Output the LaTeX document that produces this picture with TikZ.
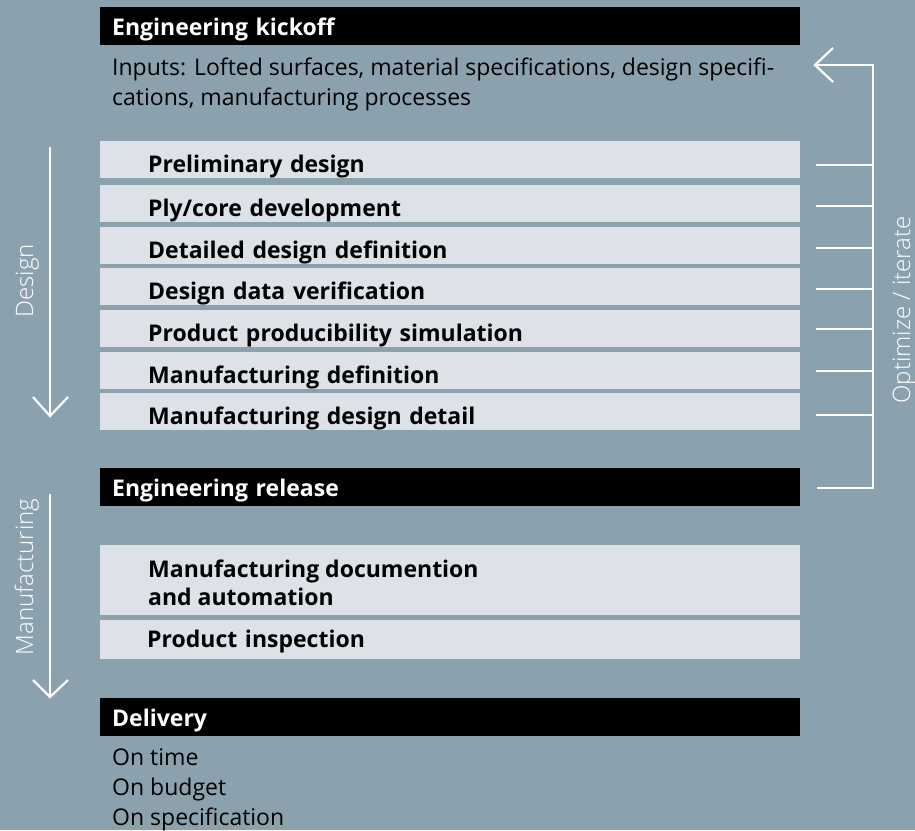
\documentclass[tikz,border=0pt]{standalone}
\usepackage{fontspec}
\setmainfont{Open Sans}
\newfontfamily\lightfont{Open Sans Light}
\usetikzlibrary{calc}
\definecolor{bgc}{HTML}{8BA2AE}
\definecolor{boxc}{HTML}{DCE2E8}
\begin{document}
\begin{tikzpicture}[x=1pt,y=1pt,
  wline/.style={draw=white,line width=2.2pt,line join=miter},
  blackbox/.style={fill=black,text=white,anchor=north west,minimum width=700pt,minimum height=38pt,
    inner xsep=12pt,inner ysep=0pt,text width=676pt,align=left,text height=18pt,text depth=0pt,
    font=\fontsize{23}{28}\selectfont\bfseries},
  stepbox/.style={fill=boxc,text=black,anchor=north west,minimum width=700pt,minimum height=37pt,
    inner xsep=48pt,inner ysep=0pt,text width=604pt,align=left,text height=25pt,text depth=0pt,
    font=\fontsize{23}{28}\selectfont\bfseries},
  plain/.style={anchor=base west,inner sep=0pt,font=\fontsize{23}{28}\selectfont,text=black},
  boldtxt/.style={anchor=base west,inner sep=0pt,font=\fontsize{23}{28}\selectfont\bfseries,text=black},
  side/.style={anchor=base,rotate=90,inner sep=0pt,text=white,font=\fontsize{24}{28}\selectfont\lightfont}
]
\fill[bgc] (0,0) rectangle (915,-830);
\useasboundingbox (0,0) rectangle (915,-830);

% kickoff
\node[blackbox] (kick) at (100,-7) {Engineering kickoff};
\node[plain] (in1) at (112,-75) {Inputs: Lofted surfaces, material specifications, design specifi-};
\node[plain] (in2) at (112,-105) {cations, manufacturing processes};

% design steps
\node[stepbox] (b1) at (100,-141) {Preliminary design};
\node[stepbox] (b2) at (100,-185) {Ply/core development};
\node[stepbox] (b3) at (100,-227) {Detailed design definition};
\node[stepbox] (b4) at (100,-268) {Design data verification};
\node[stepbox] (b5) at (100,-310) {Product producibility simulation};
\node[stepbox] (b6) at (100,-352) {Manufacturing definition};
\node[stepbox] (b7) at (100,-393) {Manufacturing design detail};

% release
\node[blackbox] (rel) at (100,-468) {Engineering release};

% manufacturing steps
\node[fill=boxc,anchor=north west,minimum width=700pt,minimum height=70pt,inner sep=0pt] (mdoc) at (100,-545) {};
\node[boldtxt] (md1) at (148,-577) {Manufacturing documention};
\node[boldtxt] (md2) at (148,-605) {and automation};
\node[stepbox,minimum height=39pt,inner xsep=47pt,text width=606pt,text height=15pt] (pins) at (100,-620) {Product inspection};

% delivery
\node[blackbox] (del) at (100,-698) {Delivery};
\node[plain] (o1) at (112,-765) {On time};
\node[plain] (o2) at (112,-795) {On budget};
\node[plain] (o3) at (112,-825) {On specification};

% design arrow
\coordinate (d1) at (50,-147);
\coordinate (d2) at (50,-416);
\draw[wline] (d1) -- (d2);
\draw[wline] ($(d2)+(-17,19)$) -- (d2) -- ($(d2)+(18,19)$);
\node[side] (ldesign) at (33,-281) {Design};

% manufacturing arrow
\coordinate (m1) at (50,-494);
\coordinate (m2) at (50,-697);
\draw[wline] (m1) -- (m2);
\draw[wline] ($(m2)+(-17,17)$) -- (m2) -- ($(m2)+(18,17)$);
\node[side] (lman) at (33,-577) {Manufacturing};

% optimize bracket
\coordinate (tip) at (815,-65);
\coordinate (bt) at (873,-65);
\coordinate (bb) at (873,-488);
\coordinate (bl) at (817,-488);
\draw[wline] (tip) -- (bt) -- (bb) -- (bl);
\draw[wline] ($(tip)+(18,17)$) -- (tip) -- ($(tip)+(18,-17)$);
\foreach \n/\y in {1/165,2/206,3/248,4/289,5/329,6/371,7/415}{
  \coordinate (tk\n) at (816,-\y);
  \draw[wline] (tk\n) -- (tk\n -| bt);
}
\node[side] (lopt) at (910,-310) {Optimize / iterate};
\end{tikzpicture}
\end{document}
